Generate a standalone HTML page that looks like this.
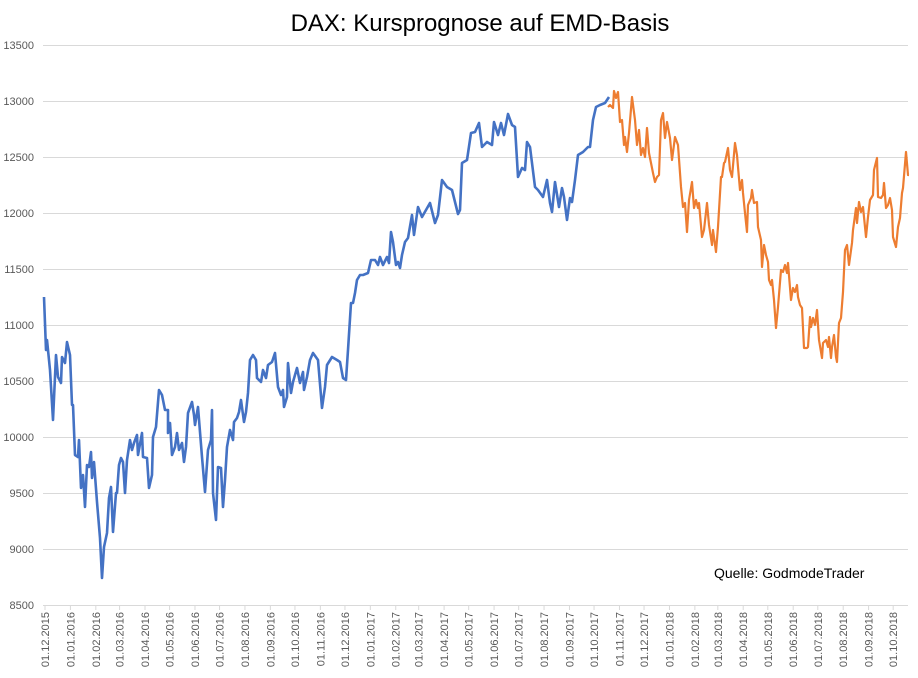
<!DOCTYPE html>
<html><head><meta charset="utf-8"><style>
body{margin:0;background:#fff}
svg{display:block;font-family:"Liberation Sans",sans-serif}
</style></head><body>
<svg width="918" height="678" viewBox="0 0 918 678">
<text x="480" y="31" text-anchor="middle" font-size="24" fill="#000">DAX: Kursprognose auf EMD-Basis</text>
<g stroke="#d9d9d9" stroke-width="1">
<line x1="43" x2="908" y1="45.5" y2="45.5"/><line x1="43" x2="908" y1="101.5" y2="101.5"/>
<line x1="43" x2="908" y1="157.5" y2="157.5"/><line x1="43" x2="908" y1="213.5" y2="213.5"/>
<line x1="43" x2="908" y1="269.5" y2="269.5"/><line x1="43" x2="908" y1="325.5" y2="325.5"/>
<line x1="43" x2="908" y1="381.5" y2="381.5"/><line x1="43" x2="908" y1="437.5" y2="437.5"/>
<line x1="43" x2="908" y1="493.5" y2="493.5"/><line x1="43" x2="908" y1="549.5" y2="549.5"/>
<line x1="43" x2="908" y1="605.5" y2="605.5"/>
</g>
<g font-size="11" fill="#595959" text-anchor="end">
<text x="34" y="49">13500</text><text x="34" y="105">13000</text><text x="34" y="161">12500</text>
<text x="34" y="217">12000</text><text x="34" y="273">11500</text><text x="34" y="329">11000</text>
<text x="34" y="385">10500</text><text x="34" y="441">10000</text><text x="34" y="497">9500</text>
<text x="34" y="553">9000</text><text x="34" y="609">8500</text>
</g>
<g id="xl" font-size="11" fill="#595959" text-anchor="end"></g>
<polyline fill="none" stroke="#4472c4" stroke-width="2.6" stroke-linejoin="round" points="44,297 46,350 47,340 50,370 53,420 56,355 58,377 61,383 62,357 65,363 67,342 70,355 72,405 73,405 75,455 78,457 79,440 81,488 83,475 85,507 87,465 89,467 91,452 92,478 94,462 97,502 100,538 102,578 104,547 107,533 109,498 111,487 113,532 116,493 117,493 119,465 121,458 123,462 125,493 127,460 130,440 132,450 134,443 137,435 138,455 142,433 143,457 147,458 149,488 152,475 153,437 156,427 159,390 162,395 165,410 168,410 168,433 170,423 172,455 175,447 177,433 179,450 182,443 184,462 186,447 188,413 192,402 194,415 195,425 198,407 202,457 205,492 208,450 211,440 212,410 213,493 216,520 218,467 221,468 223,507 225,480 227,447 230,430 233,440 234,422 237,418 239,412 241,400 244,422 246,412 248,393 250,360 253,355 256,360 257,378 261,382 263,370 266,378 268,365 272,362 275,353 278,387 281,395 283,390 284,407 287,397 288,363 291,393 293,382 297,368 300,383 303,372 304,390 307,377 310,360 313,353 318,360 322,408 325,387 327,365 332,357 337,360 340,362 343,378 346,380 348,350 351,303 353,303 355,293 357,280 360,275 363,275 368,273 371,260 375,260 378,265 380,257 383,265 387,257 389,263 391,232 393,242 396,265 398,262 400,268 402,255 405,242 408,238 412,215 414,235 418,207 422,217 430,203 435,223 438,215 442,180 447,187 452,190 458,214 460,210 462,163 467,160 471,133 475,132 479,123 482,147 487,142 492,145 494,122 498,135 501,123 504,135 508,114 512,125 515,127 517,160 518,177 522,168 525,170 527,142 530,147 535,187 538,190 543,197 547,180 550,203 552,212 555,182 559,207 562,188 564,197 567,220 570,198 572,202 575,180 578,155 583,152 588,147 590,147 593,120 596,107 600,105 605,103 609,97"/>
<polyline fill="none" stroke="#ed7d31" stroke-width="2.2" stroke-linejoin="round" points="608,107 610,105 613,108 614,91 616,98 618,92 620,122 622,120 624,145 625,137 627,152 629,133 632,97 635,120 637,145 639,130 641,155 643,148 645,157 647,128 649,153 652,168 653,173 655,182 657,177 659,175 661,120 663,113 665,138 667,122 670,138 672,160 675,137 678,145 681,187 683,207 685,203 687,232 689,200 692,182 694,208 696,200 698,208 699,203 702,237 704,230 707,203 709,225 712,245 713,230 716,252 718,227 721,177 722,177 724,163 725,162 728,148 730,170 732,177 735,143 737,155 738,167 740,190 742,180 743,193 745,213 747,232 748,205 751,198 752,190 754,203 757,202 758,227 761,240 762,267 764,245 766,255 768,262 769,280 771,285 772,280 774,300 776,328 778,307 781,270 783,272 785,265 787,273 788,263 791,300 793,288 795,292 797,285 798,297 800,305 802,308 804,348 807,348 808,347 810,317 811,327 813,318 815,325 817,310 819,340 822,358 823,343 826,340 828,347 829,337 831,358 832,347 834,335 836,357 837,362 839,323 841,318 843,292 845,250 847,245 849,265 852,243 853,230 856,208 857,223 859,202 861,212 863,207 866,237 868,217 870,200 873,195 874,170 877,158 878,197 881,198 883,195 884,183 886,208 888,205 890,198 892,210 893,237 896,247 898,227 900,218 902,193 903,188 906,152 908,175 909,175"/>
<text x="714" y="578" font-size="14" fill="#000">Quelle: GodmodeTrader</text>
<script>
(function(){
var g=document.getElementById('xl');var ns='http://www.w3.org/2000/svg';
var base=Date.UTC(2015,11,1);var s='';
for(var i=0;i<=34;i++){var y=2015+Math.floor((11+i)/12),m=(11+i)%12;
var d=(Date.UTC(y,m,1)-base)/86400000;var x=45+d*0.8195;
var t=document.createElementNS(ns,'text');t.setAttribute('transform','translate('+(x+4)+',612) rotate(-90)');
t.textContent='01.'+(m+1<10?'0':'')+(m+1)+'.'+y;g.appendChild(t);
var l=document.createElementNS(ns,'line');l.setAttribute('x1',x);l.setAttribute('x2',x);l.setAttribute('y1',606);l.setAttribute('y2',610);l.setAttribute('stroke','#d9d9d9');g.parentNode.appendChild(l);}
})();
</script>
</svg>
</body></html>
